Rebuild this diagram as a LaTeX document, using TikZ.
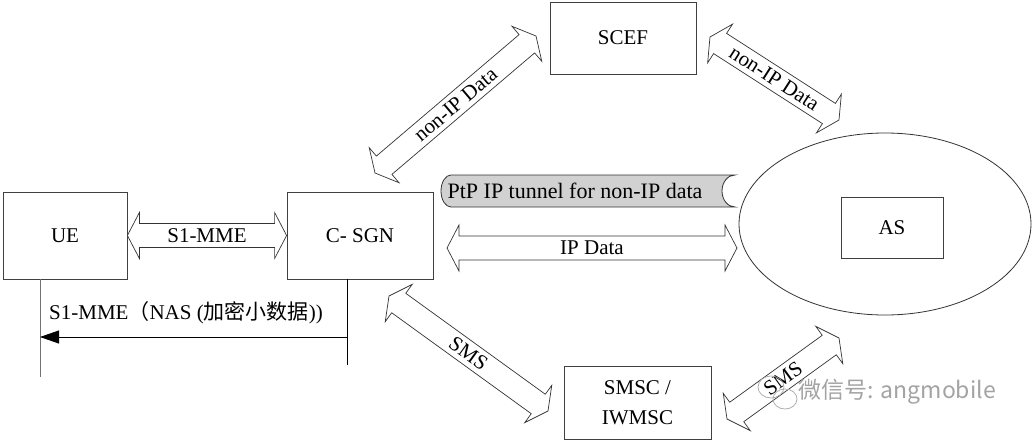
\documentclass[tikz,border=0pt]{standalone}
\usepackage{fontspec}
\setmainfont{Liberation Serif}
\newfontfamily\cjk{Noto Sans CJK SC}
\usetikzlibrary{calc,shapes.geometric,arrows.meta}

\tikzset{
  lbl/.style={font=\fontsize{21}{25}\selectfont, inner sep=1pt},
  box/.style={draw=black!75, line width=0.8pt, lbl, align=center, inner sep=0pt},
  blk/.style={draw=black!80, line width=0.7pt, fill=white, line join=miter},
  tunnelshape/.style={draw=black!80, line width=0.8pt, fill=black!18},
  lifeline/.style={line width=0.8pt},
  msg/.style={line width=0.8pt, -{Triangle[length=19pt,width=13pt]}},
  wm/.style={text=black!45, text opacity=0.8, font=\cjk\fontsize{23}{26}\selectfont}
}

\newcommand\blockarr[3]{%
  \coordinate (#1x) at ($(#1)!12pt!(#2)$);
  \coordinate (#2x) at ($(#2)!12pt!(#1)$);
  \draw[blk] (#1)
    -- ($(#1x)!23pt!90:(#2)$) -- ($(#1x)!12pt!90:(#2)$)
    -- ($(#2x)!12pt!-90:(#1)$) -- ($(#2x)!23pt!-90:(#1)$)
    -- (#2)
    -- ($(#2x)!23pt!90:(#1)$) -- ($(#2x)!12pt!90:(#1)$)
    -- ($(#1x)!12pt!-90:(#2)$) -- ($(#1x)!23pt!-90:(#2)$)
    -- cycle;
  \path (#1) -- (#2) node[midway, sloped, lbl] {#3};
}

\begin{document}
\begin{tikzpicture}[x=1pt,y=-1pt]
\useasboundingbox (0,0) rectangle (1034,442);

% main nodes
\node[box, minimum width=124pt, minimum height=87pt] (UE) at (65,235.5) {UE};
\node[box, minimum width=146pt, minimum height=87pt] (CSGN) at (360,235.5) {C- SGN};
\node[box, minimum width=146pt, minimum height=72pt] (SCEF) at (623,38) {SCEF};
\node[draw=black!80, line width=0.8pt, ellipse, minimum width=292pt, minimum height=182pt, inner sep=0pt] (ASreg) at (885,224) {};
\node[box, minimum width=102pt, minimum height=61pt] (AS) at (892,227.5) {AS};
\node[box, minimum width=147pt, minimum height=73pt, font=\fontsize{21}{30}\selectfont] (SMSC) at (637.5,402.5) {SMSC /\\IWMSC};

% tunnel
\draw[tunnelshape] (735,175) -- (451,175)
  .. controls (445.5,175) and (441,182.2) .. (441,191)
  .. controls (441,199.8) and (445.5,207) .. (451,207)
  -- (735,207)
  .. controls (727.8,207) and (722,199.8) .. (722,191)
  .. controls (722,182.2) and (727.8,175) .. (735,175) -- cycle;
\node[lbl, font=\fontsize{22}{26}\selectfont] (tunnel) at (575,191) {PtP IP tunnel for non-IP data};

% block arrow end points
\coordinate (s1a) at (UE.east);
\coordinate (s1b) at (CSGN.west);
\coordinate (ipa) at (447,248);
\coordinate (ipb) at (737,248);
\coordinate (nia) at (375,173);
\coordinate (nib) at (536,36);
\coordinate (nja) at (710,37);
\coordinate (njb) at (839,120);
\coordinate (sma) at (389,296);
\coordinate (smb) at (548,411);
\coordinate (ska) at (727,419);
\coordinate (skb) at (839,338);

\blockarr{s1a}{s1b}{S1-MME}
\blockarr{ipa}{ipb}{IP Data}
\blockarr{nia}{nib}{non-IP Data}
\blockarr{nja}{njb}{non-IP Data}
\blockarr{sma}{smb}{SMS}
\blockarr{ska}{skb}{SMS}

% lifelines and message
\coordinate (ueTop) at (40,279);
\coordinate (ueBot) at (40,377);
\coordinate (cgTop) at (347,279);
\coordinate (cgBot) at (347,365);
\coordinate (cgMsg) at (347,337);
\coordinate (ueMsg) at (40,337);
\draw[lifeline, black!55] (ueTop) -- (ueBot);
\draw[lifeline] (cgTop) -- (cgBot);
\draw[msg] (cgMsg) -- (ueMsg);
\node[lbl, anchor=west] (msglbl) at (48,313) {S1-MME{\cjk （}NAS ({\cjk 加密小数据}))};

% watermark
\draw[black!35, line width=0.7pt] (771,387) ellipse [x radius=13pt, y radius=11pt];
\draw[black!35, line width=0.7pt] (785,399) ellipse [x radius=12pt, y radius=10pt];
\node[wm, anchor=west] (wmtext) at (795,392) {微信号: angmobile};
\end{tikzpicture}
\end{document}
